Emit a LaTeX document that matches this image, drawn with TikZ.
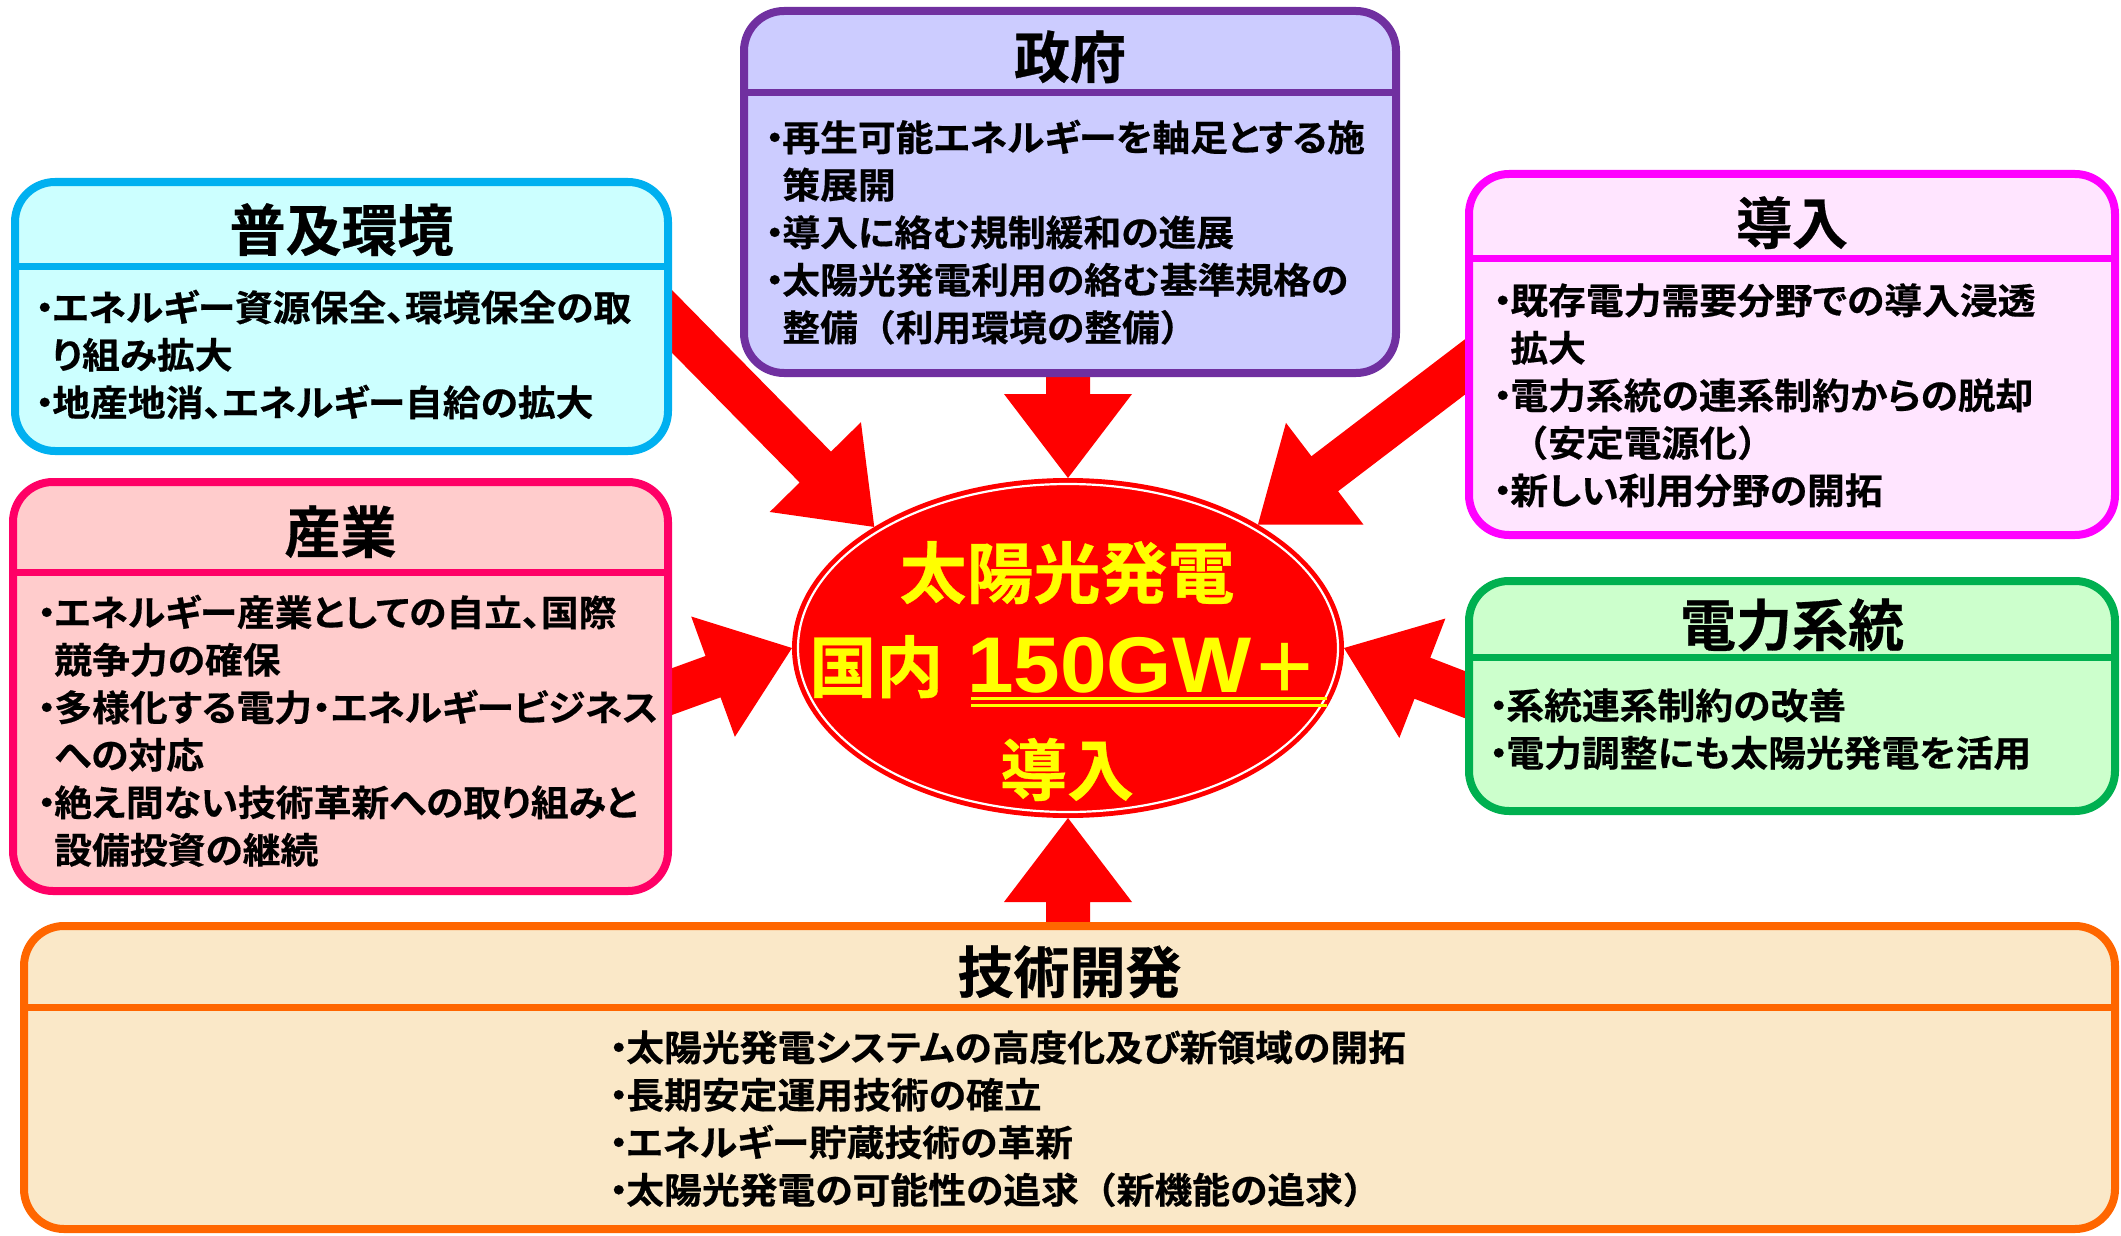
\documentclass[tikz,border=0pt]{standalone}
\usepackage{fontspec}
\newfontfamily\jp{Noto Sans CJK JP Bold}[RawFeature={+palt},FakeBold=0.5]
\newfontfamily\jpb{Noto Sans CJK JP Bold}[RawFeature={+palt},FakeStretch=1.05,FakeBold=0.5]
\newfontfamily\jpf{Noto Sans CJK JP Bold}[FakeStretch=1.05,FakeBold=0.5]
\newfontfamily\jpp{Noto Sans CJK JP Bold}
\newfontfamily\lat{Liberation Sans}[FakeStretch=1.06]
\usetikzlibrary{shapes.geometric,calc,backgrounds}
\definecolor{cyB}{HTML}{00B0F0}\definecolor{cyF}{HTML}{CCFFFF}
\definecolor{puB}{HTML}{7030A0}\definecolor{puF}{HTML}{CCCCFF}
\definecolor{mgB}{HTML}{FF00FF}\definecolor{mgF}{HTML}{FFE5FF}
\definecolor{pkB}{HTML}{FF0066}\definecolor{pkF}{HTML}{FFCCCC}
\definecolor{grB}{HTML}{00B050}\definecolor{grF}{HTML}{CCFFCC}
\definecolor{orB}{HTML}{FF6600}\definecolor{orF}{HTML}{FAE8C8}
\definecolor{arrred}{HTML}{FF0000}
\definecolor{yel}{HTML}{FFFF00}
\newcommand\bu{\makebox[0.42em][c]{・}}
\newcommand\ind{\hspace*{0.42em}}
\newcommand\fw[1]{{\jpf #1}}
\newcommand\barrow[2]{%
  \coordinate (#1-h) at ($(#2)!84pt!(#1)$);
  \fill[arr] ($(#1)!22pt!90:(#2)$) -- ($(#1-h)!22pt!90:(#2)$) -- ($(#1-h)!64pt!90:(#2)$) -- (#2)
    -- ($(#1-h)!64pt!-90:(#2)$) -- ($(#1-h)!22pt!-90:(#2)$) -- ($(#1)!22pt!-90:(#2)$) -- cycle;}
\tikzset{
  box/.style={rectangle, rounded corners=40pt, line width=8pt, inner sep=0pt, outer sep=0pt},
  sepline/.style={line width=7pt},
  ttl/.style={font=\jp\fontsize{56}{60}\selectfont, inner sep=0pt, anchor=base},
  body/.style={font=\jpb\fontsize{36}{44}\selectfont, inner sep=0pt, anchor=base west},
  big/.style={font=\jp\fontsize{67}{70}\selectfont, text=yel, inner sep=0pt},
  arr/.style={fill=arrred, draw=none},
}
\begin{document}
\begin{tikzpicture}[x=1pt,y=-1pt]
\useasboundingbox (0,0) rectangle (2121,1236);

% boxes
\node[box, draw=cyB, fill=cyF, minimum width=653pt, minimum height=269pt] (fukyu) at (341.5,316.5) {};
\node[box, draw=puB, fill=puF, minimum width=652pt, minimum height=362pt] (seifu) at (1070,192) {};
\node[box, draw=mgB, fill=mgF, minimum width=646pt, minimum height=361pt] (donyu) at (1792,354.5) {};
\node[box, draw=pkB, fill=pkF, minimum width=655pt, minimum height=409pt] (sangyo) at (340.5,686.5) {};
\node[box, draw=grB, fill=grF, minimum width=646pt, minimum height=230pt] (denryoku) at (1792,696) {};
\node[box, draw=orB, fill=orF, minimum width=2091pt, minimum height=303pt] (gijutsu) at (1069.5,1077.5) {};

\coordinate (fs) at (0,266);
\coordinate (ss) at (0,93);
\coordinate (ds) at (0,258);
\coordinate (gs) at (0,572);
\coordinate (es) at (0,657);
\coordinate (js) at (0,1007);
\draw[sepline, draw=cyB] (fukyu.west |- fs) -- (fukyu.east |- fs);
\draw[sepline, draw=puB] (seifu.west |- ss) -- (seifu.east |- ss);
\draw[sepline, draw=mgB] (donyu.west |- ds) -- (donyu.east |- ds);
\draw[sepline, draw=pkB] (sangyo.west |- gs) -- (sangyo.east |- gs);
\draw[sepline, draw=grB] (denryoku.west |- es) -- (denryoku.east |- es);
\draw[sepline, draw=orB] (gijutsu.west |- js) -- (gijutsu.east |- js);

% titles
\node[ttl] (tf) at (341.5,251) {普及環境};
\node[ttl] (ts) at (1070,78) {政府};
\node[ttl] (td) at (1792,244) {導入};
\node[ttl] (tg) at (340.5,553) {産業};
\node[ttl] (te) at (1792,646) {電力系統};
\node[ttl] (tj) at (1069.5,993) {技術開発};

% body texts
\node[body] (f1) at (37,321) {\bu エネルギー資源保全、環境保全の取};
\node[body] (f2) at (37,368.5) {\ind り組み拡大};
\node[body] (f3) at (37,416) {\bu 地産地消、エネルギー自給の拡大};

\node[body] (s1t) at (767,151) {\bu 再生可能エネルギーを軸足とする施};
\node[body] (s2t) at (767,198.5) {\ind 策展開};
\node[body] (s3t) at (767,246) {\bu 導入に絡む規制緩和の進展};
\node[body] (s4t) at (767,293.5) {\bu 太陽光発電利用の絡む基準規格の};
\node[body] (s5t) at (767,341) {\ind 整備\fw{（}利用環境の整備\fw{）}};

\node[body] (d1) at (1495,314) {\bu 既存電力需要分野での導入浸透};
\node[body] (d2) at (1495,361.5) {\ind 拡大};
\node[body] (d3) at (1495,409) {\bu 電力系統の連系制約からの脱却};
\node[body] (d4) at (1495,456.5) {\ind\fw{（}安定電源化\fw{）}};
\node[body] (d5) at (1495,504) {\bu 新しい利用分野の開拓};

\node[body] (g1) at (39,626) {\bu エネルギー産業としての自立、国際};
\node[body] (g2) at (39,673.5) {\ind 競争力の確保};
\node[body] (g3) at (39,721) {\bu 多様化する電力・エネルギービジネス};
\node[body] (g4) at (39,768.5) {\ind への対応};
\node[body] (g5) at (39,816) {\bu 絶え間ない技術革新への取り組みと};
\node[body] (g6) at (39,863.5) {\ind 設備投資の継続};

\node[body] (e1t) at (1491,719) {\bu 系統連系制約の改善};
\node[body] (e2t) at (1491,766.5) {\bu 電力調整にも太陽光発電を活用};

\node[body] (j1) at (611,1061) {\bu 太陽光発電システムの高度化及び新領域の開拓};
\node[body] (j2) at (611,1108.5) {\bu 長期安定運用技術の確立};
\node[body] (j3) at (611,1156) {\bu エネルギー貯蔵技術の革新};
\node[body] (j4) at (611,1203.5) {\bu 太陽光発電の可能性の追求\fw{（}新機能の追求\fw{）}};

% central ellipse
\node[ellipse, fill=arrred, minimum width=552pt, minimum height=340pt, inner sep=0pt, outer sep=0pt] (ell) at (1068,648) {};
\draw[white, line width=2.2pt] (ell.center) ellipse [x radius=270, y radius=164];
\node[big, anchor=base] (c1) at (1067,598) {太陽光発電};
\node[big, anchor=base west] (c2) at (809,692) {国内};
\node[anchor=base west, inner sep=0pt, text=yel] (c3) at (967,692) {{\lat\bfseries\fontsize{79}{80}\selectfont 150GW}{\jpp\fontsize{67}{70}\selectfont ＋}};
\node[big, anchor=base] (c4) at (1067,795) {導入};
\draw[yel, line width=3pt] ($(c3.base west)+(4,6)$) -- ($(c3.base east)+(9,6)$);
\draw[yel, line width=3pt] ($(c3.base west)+(4,13)$) -- ($(c3.base east)+(9,13)$);

% arrows (behind)
\coordinate (a1) at (645,294);
\coordinate (a2) at (1068,360);
\coordinate (a3) at (1499,341);
\coordinate (a4) at (646,701);
\coordinate (a5) at (1484,702);
\coordinate (a6) at (1068,940);
\coordinate (b1) at (ell.148);
\coordinate (b2) at (ell.90);
\coordinate (b3) at (ell.33);
\coordinate (b4) at (ell.180);
\coordinate (b5) at (ell.0);
\coordinate (b6) at (ell.270);
\begin{pgfonlayer}{background}
\fill[white] (0,0) rectangle (2121,1236);
\barrow{a1}{b1}
\barrow{a2}{b2}
\barrow{a3}{b3}
\barrow{a4}{b4}
\barrow{a5}{b5}
\barrow{a6}{b6}
\end{pgfonlayer}
\end{tikzpicture}
\end{document}
